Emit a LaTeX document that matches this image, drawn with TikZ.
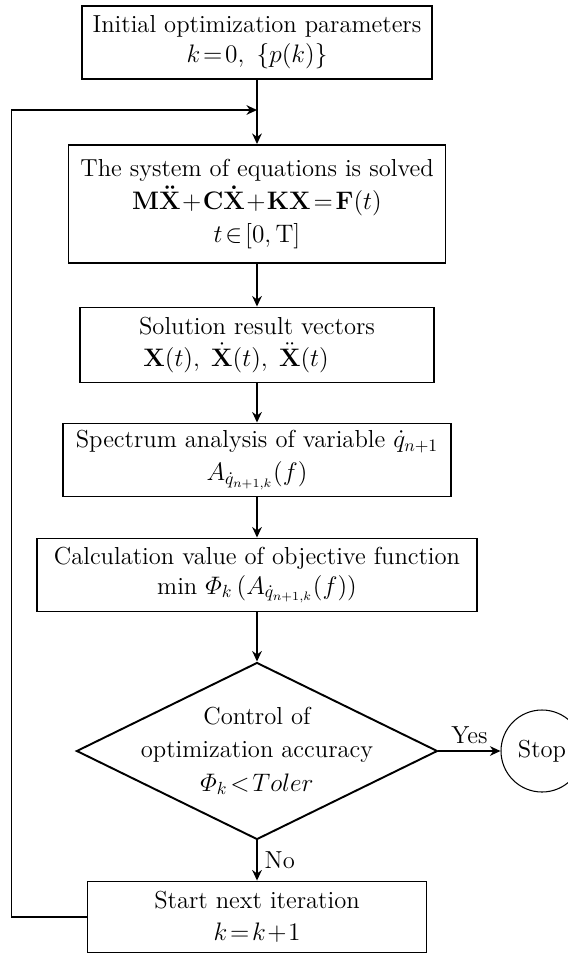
\documentclass[tikz,border=0pt,12pt]{standalone}
\usepackage{amsmath}
\usetikzlibrary{arrows.meta,shapes.geometric}

\begin{document}
\begin{tikzpicture}[->,>={Stealth[length=6pt,width=5.5pt]},auto,node distance=2.3cm,thick,
    font=\fontsize{14}{17}\selectfont]
  \tikzstyle{block}=[rectangle,draw,line width=1.1pt,align=center,inner sep=2pt]
  \tikzstyle{decision}=[diamond,draw,line width=1.1pt,align=center,aspect=2,inner sep=-5.5pt]
  \tikzstyle{terminal}=[circle,draw,semithick,minimum size=1.64cm,inner sep=0pt]
  \useasboundingbox (0,0) rectangle (11.34,-19.08);

  \node[block,minimum width=7.0cm,minimum height=1.46cm] (init) at (5.14,-0.85)
       {Initial optimization parameters\\ $k\!=\!0,\ \{p(k)\}$};
  \node[block,minimum width=7.54cm,minimum height=2.36cm] (solve) [below of=init, node distance=3.23cm]
       {The system of equations is solved\\[2pt]
        $\mathbf{M\ddot{X}}\!+\!\mathbf{C\dot{X}}\!+\!\mathbf{KX}\!=\!\mathbf{F}(t)$\\[2pt]
        $t\!\in\![0,\mathrm{T}]$};
  \node[block,minimum width=7.08cm,minimum height=1.5cm] (result) [below of=solve, node distance=2.82cm]
       {Solution result vectors\\[1pt] $\mathbf{X}(t),\;\dot{\mathbf{X}}(t),\;\ddot{\mathbf{X}}(t)$\hspace*{1.7em}};
  \node[block,minimum width=7.76cm,minimum height=1.46cm] (spectrum) [below of=result]
       {Spectrum analysis of variable $\dot{q}_{n+1}$\\[2pt] $A_{\dot{q}_{n+1,k}}(f)$};
  \node[block,minimum width=8.8cm,minimum height=1.46cm] (objective) [below of=spectrum]
       {Calculation value of objective function\\ min $\varPhi_k\,(A_{\dot{q}_{n+1,k}}(f))$};
  \node[decision,minimum width=7.22cm,minimum height=3.54cm] (check) [below of=objective, node distance=3.52cm]
       {Control of\\[2pt] optimization accuracy\\[2pt] $\varPhi_k\!<\!Toler$};
  \node[terminal] (stop) [right of=check, node distance=5.7cm] {Stop};
  \node[block,minimum width=6.78cm,minimum height=1.42cm] (next) [below of=check, node distance=3.32cm]
       {Start next iteration\\[1pt] $k\!=\!k\!+\!1$};
  \coordinate[below of=init, node distance=1.35cm] (join);

  \path
        (init)      edge (solve)
        (solve)     edge (result)
        (result)    edge (spectrum)
        (spectrum)  edge (objective)
        (objective) edge (check)
        (check)     edge node {Yes} (stop)
        (check)     edge node {No} (next);
  \draw (next.west) -- ++(-1.5cm,0) |- (join);
\end{tikzpicture}
\end{document}
